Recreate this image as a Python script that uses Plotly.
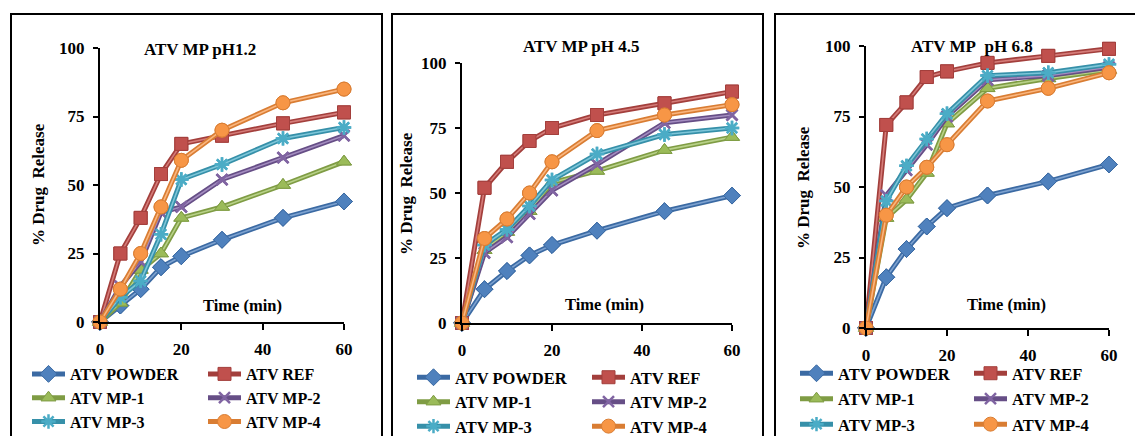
import plotly.graph_objects as go

# ---------------- data ----------------
time_min = [0, 5, 10, 15, 20, 30, 45, 60]
series_names = ["ATV POWDER", "ATV REF", "ATV MP-1", "ATV MP-2", "ATV MP-3", "ATV MP-4"]

ph12_powder = [0, 6, 12, 20, 24, 30, 38, 44]
ph12_ref = [0, 25, 38, 54, 65, 68, 72.5, 76.5]
ph12_mp1 = [0, 7, 19, 25, 38, 42, 50, 58.5]
ph12_mp2 = [0, 13, 22, 40, 42, 52, 60, 68]
ph12_mp3 = [0, 9, 15, 32, 52, 57.5, 67, 71]
ph12_mp4 = [0, 12, 25, 42, 59, 70, 80, 85]

ph45_powder = [0, 13, 20, 26, 30, 35.5, 43, 49]
ph45_ref = [0, 52, 62, 70, 75, 80, 84.5, 89]
ph45_mp1 = [0, 28, 35, 43, 54, 58.5, 66.5, 71.5]
ph45_mp2 = [0, 27, 33, 42, 51, 61, 77, 80]
ph45_mp3 = [0, 30, 36, 45, 55, 65, 72.5, 75]
ph45_mp4 = [0, 32.5, 40, 50, 62, 74, 80, 84]

ph68_powder = [0, 18, 28, 36, 42.5, 47, 52, 58]
ph68_ref = [0, 72, 80, 89, 91, 94, 96.5, 99]
ph68_mp1 = [0, 39, 45.5, 55, 72.5, 85, 88.5, 91.5]
ph68_mp2 = [0, 47, 56, 65, 75, 88, 89.5, 92.5]
ph68_mp3 = [0, 45, 57.5, 67, 76, 89.5, 90.5, 93.5]
ph68_mp4 = [0, 40, 50, 57, 65, 80.5, 85, 90.5]

panel_titles = ["ATV MP pH1.2", "ATV MP pH 4.5", "ATV MP\u00a0 pH 6.8"]
y_title = "% Drug\u00a0 Release"
x_title = "Time\u00a0(min)"
y_ticks = [0, 25, 50, 75, 100]
x_ticks = [0, 20, 40, 60]

panels = [
    [ph12_powder, ph12_ref, ph12_mp1, ph12_mp2, ph12_mp3, ph12_mp4],
    [ph45_powder, ph45_ref, ph45_mp1, ph45_mp2, ph45_mp3, ph45_mp4],
    [ph68_powder, ph68_ref, ph68_mp1, ph68_mp2, ph68_mp3, ph68_mp4],
]

# ---------------- styling ----------------
W, H = 1135, 436
FONT = "Liberation Serif"
colors = ["#4F81BD", "#C0504D", "#9BBB59", "#8064A2", "#4BACC6", "#F79646"]
dark = ["#3B6AA3", "#A33F3C", "#7F9C44", "#664E86", "#3690A9", "#D97D33"]
light = ["#7DA2D0", "#D57C79", "#B8D188", "#A48DC0", "#7EC6D9", "#FAB67F"]
symbols = ["diamond", "square", "triangle-up", "x-thin-open", "asterisk-open", "circle"]
msizes = [13, 13, 13, 11, 12, 14]

geo = [(100, 344, 322, 48), (462, 732, 323, 63), (866, 1109, 328, 46)]
boxes = [(11, 382), (392, 763), (775, 1140)]
title_pos = [(200, 49), (581, 46), (972, 47)]
xtitle_pos = [(242, 305), (604, 304), (1006, 304)]
ytitle_pos = [(38, 185), (406, 194), (803, 188)]
legend_cols = [(27, 203), (412, 587), (795, 969)]
legend_top = [357, 360, 356]
legend_gap = [0, 0, 1]
legend_fs = [16, 16.5, 16.5]


def fx(px):
    return px / W


def fy(py):
    return 1 - py / H


def tfont(size=17):
    return dict(family=FONT, size=size, color="black", weight="bold")


fig = go.Figure()
layout = dict(
    width=W, height=H,
    margin=dict(l=0, r=0, t=0, b=0, autoexpand=False),
    paper_bgcolor="white", plot_bgcolor="rgba(0,0,0,0)",
    font=tfont(),
    showlegend=True,
    annotations=[], shapes=[],
)

for p, data in enumerate(panels):
    xa = "x" if p == 0 else f"x{p + 1}"
    ya = "y" if p == 0 else f"y{p + 1}"
    for i, (name, vals) in enumerate(zip(series_names, data)):
        leg_idx = p * 2 + (i % 2) + 1
        leg = "legend" if leg_idx == 1 else f"legend{leg_idx}"
        grp = f"p{p}s{i}"
        is_open = symbols[i].endswith("open")
        marker = dict(symbol=symbols[i], size=msizes[i], color=colors[i],
                      line=dict(color=colors[i] if is_open else dark[i], width=2.5 if is_open else 1))
        fig.add_trace(go.Scatter(
            x=time_min, y=vals, name=name, mode="lines+markers", legendgroup=grp,
            line=dict(color=dark[i], width=5), marker=marker,
            xaxis=xa, yaxis=ya, legend=leg, cliponaxis=False, showlegend=True,
        ))
        fig.add_trace(go.Scatter(
            x=time_min, y=vals, name=name, mode="lines", legendgroup=grp,
            line=dict(color=light[i], width=1.6), legend=leg,
            xaxis=xa, yaxis=ya, cliponaxis=False, showlegend=False, hoverinfo="skip",
        ))
        fig.add_trace(go.Scatter(
            x=time_min, y=vals, name=name, mode="markers", marker=marker, legendgroup=grp,
            xaxis=xa, yaxis=ya, cliponaxis=False, showlegend=False, legend=leg,
        ))

    xl, xr, y0, y100 = geo[p]
    xkey = "xaxis" if p == 0 else f"xaxis{p + 1}"
    ykey = "yaxis" if p == 0 else f"yaxis{p + 1}"
    layout[xkey] = dict(
        domain=[fx(xl), fx(xr)], range=[0, 60], anchor=ya, automargin=False,
        tickvals=x_ticks, ticks="outside", ticklen=6, tickwidth=2, tickcolor="black",
        showline=True, linecolor="black", linewidth=2, showgrid=False, zeroline=False,
        ticklabelstandoff=5, tickfont=tfont(),
    )
    layout[ykey] = dict(
        domain=[fy(y0), fy(y100)], range=[0, 100], anchor=xa, automargin=False,
        tickvals=y_ticks, ticks="outside", ticklen=5, tickwidth=2, tickcolor="black",
        showline=True, linecolor="black", linewidth=2, showgrid=False, zeroline=False,
        ticklabelstandoff=5, tickfont=tfont(),
    )

    bx0, bx1 = boxes[p]
    layout["shapes"].append(dict(type="rect", xref="paper", yref="paper",
                                 x0=fx(bx0), x1=fx(bx1), y0=fy(450), y1=fy(14),
                                 line=dict(color="black", width=2), fillcolor="rgba(0,0,0,0)"))

    tx, ty = title_pos[p]
    layout["annotations"].append(dict(text=panel_titles[p], x=fx(tx), y=fy(ty), xref="paper", yref="paper",
                                      showarrow=False, xanchor="center", yanchor="middle", font=tfont(17)))
    tx, ty = xtitle_pos[p]
    layout["annotations"].append(dict(text=x_title, x=fx(tx), y=fy(ty), xref="paper", yref="paper",
                                      showarrow=False, xanchor="center", yanchor="middle", font=tfont(16.5)))
    tx, ty = ytitle_pos[p]
    layout["annotations"].append(dict(text=y_title, x=fx(tx), y=fy(ty), xref="paper", yref="paper",
                                      showarrow=False, xanchor="center", yanchor="middle", textangle=-90,
                                      font=tfont(17)))

    for c in range(2):
        leg_idx = p * 2 + c + 1
        lkey = "legend" if leg_idx == 1 else f"legend{leg_idx}"
        layout[lkey] = dict(
            x=fx(legend_cols[p][c]), y=fy(legend_top[p]), xanchor="left", yanchor="top",
            xref="paper", yref="paper", orientation="v", bgcolor="rgba(0,0,0,0)",
            itemwidth=33, tracegroupgap=legend_gap[p], font=tfont(legend_fs[p]),
        )

fig.update_layout(**layout)
fig.write_html("out.html", config={"displayModeBar": False},
               post_script="document.body.style.margin='0';")
